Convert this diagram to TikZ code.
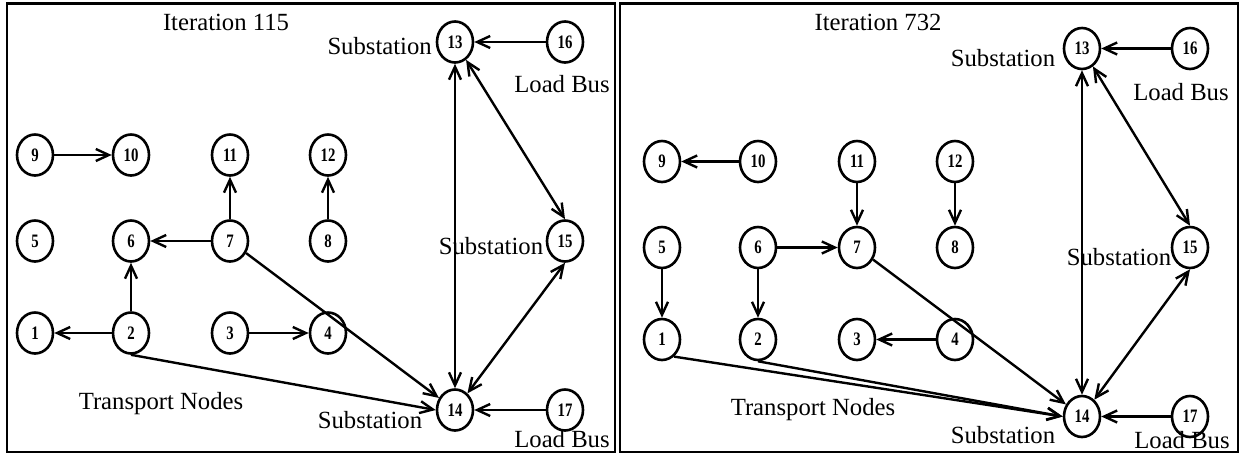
\documentclass[tikz,border=0pt]{standalone}
\usepackage{fontspec}
\setmainfont{Liberation Serif}
\usetikzlibrary{shapes.geometric,arrows.meta}
\newcommand{\nn}[1]{\scalebox{0.78}[1]{#1}}
\begin{document}
\begin{tikzpicture}[x=1pt,y=-1pt,
 bus/.style={ellipse,draw,line width=2.6pt,minimum width=36pt,minimum height=41pt,inner sep=0pt,font=\bfseries\fontsize{19}{19}\selectfont},
 lbl/.style={font=\fontsize{24.7}{26}\selectfont,anchor=base,inner sep=0pt},
 edge/.style={line width=2.4pt,-{Straight Barb[length=13pt,width=12pt]}},
 both/.style={line width=2.4pt,{Straight Barb[length=13pt,width=12pt]}-{Straight Barb[length=13pt,width=12pt]}},
 frame/.style={line width=2.6pt}]
\useasboundingbox (0,0) rectangle (1243,458);
\draw[frame] (7,3.5) rectangle (615,452);
\draw[frame] (620,3.5) rectangle (1238,452);
% ---------- left panel ----------
\node[bus] (l13) at (455,42) {\nn{13}};
\node[bus] (l16) at (565,42) {\nn{16}};
\node[bus] (l9) at (35,155) {\nn{9}};
\node[bus] (l10) at (131,155) {\nn{10}};
\node[bus] (l11) at (230,155) {\nn{11}};
\node[bus] (l12) at (328,155) {\nn{12}};
\node[bus] (l5) at (35,241) {\nn{5}};
\node[bus] (l6) at (131,241) {\nn{6}};
\node[bus] (l7) at (230,241) {\nn{7}};
\node[bus] (l8) at (328,241) {\nn{8}};
\node[bus] (l15) at (565,241) {\nn{15}};
\node[bus] (l1) at (35,333) {\nn{1}};
\node[bus] (l2) at (131,333) {\nn{2}};
\node[bus] (l3) at (230,333) {\nn{3}};
\node[bus] (l4) at (328,333) {\nn{4}};
\node[bus] (l14) at (455,410) {\nn{14}};
\node[bus] (l17) at (565,410) {\nn{17}};
\node[lbl] (lt1) at (226,30) {Iteration 115};
\node[lbl,anchor=base east] (lt2) at (432,54) {Substation};
\node[lbl] (lt3) at (562,92) {Load Bus};
\node[lbl] (lt4) at (491,254) {Substation};
\node[lbl] (lt5) at (161,409) {Transport Nodes};
\node[lbl] (lt6) at (370,428) {Substation};
\node[lbl] (lt7) at (562,447) {Load Bus};
\draw[edge] (l9) -- (l10);
\draw[edge] (l7) -- (l11);
\draw[edge] (l8) -- (l12);
\draw[edge] (l7) -- (l6);
\draw[edge] (l2) -- (l6);
\draw[edge] (l2) -- (l1);
\draw[edge] (l3) -- (l4);
\draw[edge] (l7) -- (l14);
\draw[edge] (l2.south) -- (l14.west);
\draw[edge] (l16) -- (l13);
\draw[edge] (l17) -- (l14);
\draw[both] (l13) -- (l14);
\draw[both] (l13) -- (l15.north);
\draw[both] (l15.south) -- (l14);
% ---------- right panel ----------
\node[bus] (r13) at (1082,48.5) {\nn{13}};
\node[bus] (r16) at (1190,48.5) {\nn{16}};
\node[bus] (r9) at (662,161.5) {\nn{9}};
\node[bus] (r10) at (758,161.5) {\nn{10}};
\node[bus] (r11) at (857,161.5) {\nn{11}};
\node[bus] (r12) at (955,161.5) {\nn{12}};
\node[bus] (r5) at (662,247.5) {\nn{5}};
\node[bus] (r6) at (758,247.5) {\nn{6}};
\node[bus] (r7) at (857,247.5) {\nn{7}};
\node[bus] (r8) at (955,247.5) {\nn{8}};
\node[bus] (r15) at (1190,247.5) {\nn{15}};
\node[bus] (r1) at (662,339.5) {\nn{1}};
\node[bus] (r2) at (758,339.5) {\nn{2}};
\node[bus] (r3) at (857,339.5) {\nn{3}};
\node[bus] (r4) at (955,339.5) {\nn{4}};
\node[bus] (r14) at (1082,416.5) {\nn{14}};
\node[bus] (r17) at (1190,416.5) {\nn{17}};
\node[lbl] (rt1) at (878,30) {Iteration 732};
\node[lbl] (rt2) at (1003,66) {Substation};
\node[lbl] (rt3) at (1181,100) {Load Bus};
\node[lbl] (rt4) at (1119,265) {Substation};
\node[lbl] (rt5) at (813,415) {Transport Nodes};
\node[lbl] (rt6) at (1003,443) {Substation};
\node[lbl] (rt7) at (1182,448) {Load Bus};
\draw[edge] (r10) -- (r9);
\draw[edge] (r11) -- (r7);
\draw[edge] (r12) -- (r8);
\draw[edge] (r6) -- (r7);
\draw[edge] (r6) -- (r2);
\draw[edge] (r5) -- (r1);
\draw[edge] (r4) -- (r3);
\draw[edge] (r7) -- (r14);
\draw[edge] (r1.-55) -- (r14.west);
\draw[edge] (r2.south) -- (r14.west);
\draw[edge] (r16) -- (r13);
\draw[edge] (r17) -- (r14);
\draw[both] (r13) -- (r14);
\draw[both] (r13) -- (r15.north);
\draw[both] (r15.south) -- (r14);
\end{tikzpicture}
\end{document}
